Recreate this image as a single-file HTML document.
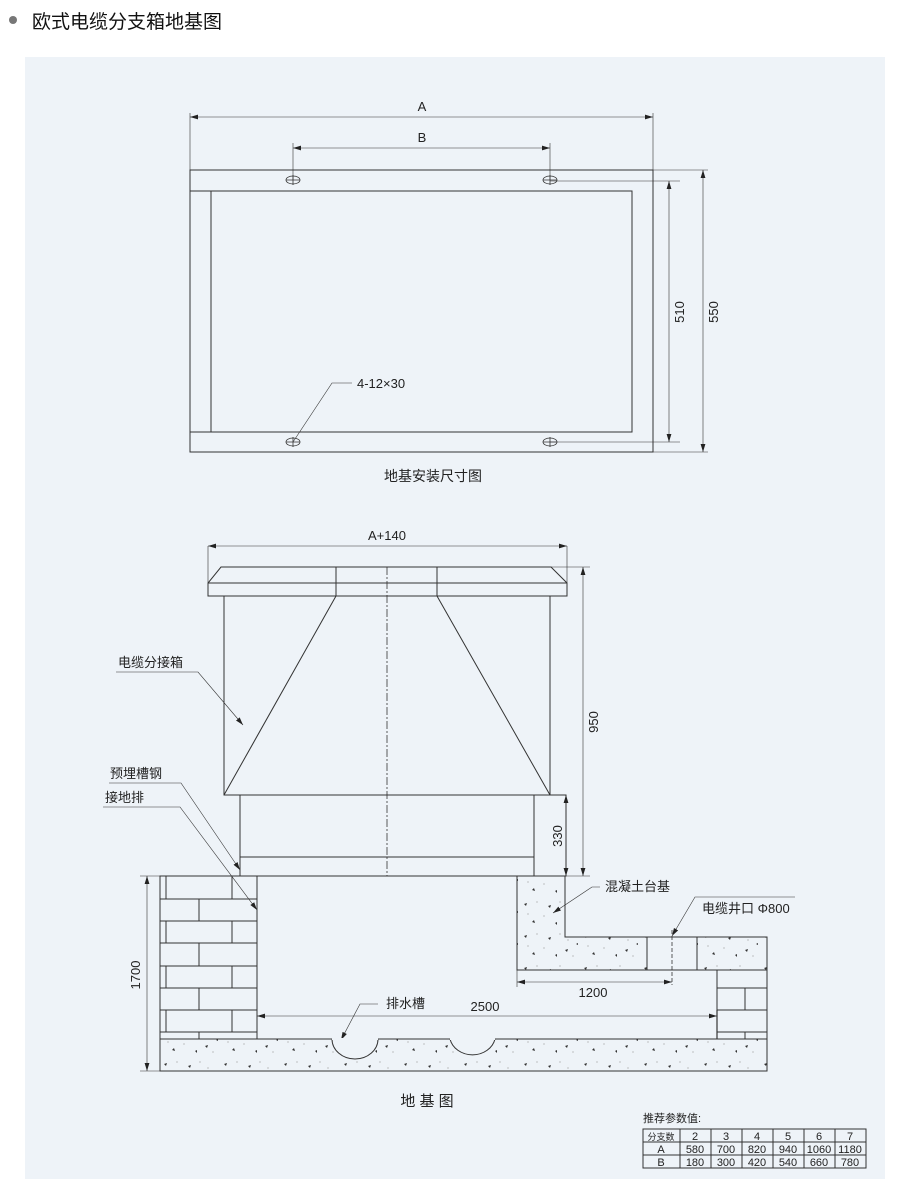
<!DOCTYPE html>
<html><head><meta charset="utf-8"><style>
html,body{margin:0;padding:0;background:#fff;}
body{width:900px;height:1179px;position:relative;overflow:hidden;font-family:"Liberation Sans","Noto Sans CJK SC",sans-serif;}
svg{position:absolute;left:0;top:0;}
</style></head><body>
<svg width="900" height="1179" viewBox="0 0 900 1179" xmlns="http://www.w3.org/2000/svg" font-family="Liberation Sans, Noto Sans CJK SC, sans-serif">
<defs>
<marker id="ar" viewBox="0 0 10 6" refX="10" refY="3" markerWidth="8" markerHeight="5" orient="auto-start-reverse" markerUnits="userSpaceOnUse"><path d="M0,0L10,3L0,6z" fill="#222"/></marker>
<pattern id="conc" width="60" height="32" patternUnits="userSpaceOnUse">
<g fill="#333"><path d="M8,10l3,-1l-1,3z"/><path d="M25,22l3,-1l-1,3z"/><path d="M44,8l3,-1l-1,3z"/><path d="M52,26l2,-2l1,3z"/><path d="M15,27l2,-1l0,3z"/><path d="M36,16l2,-1l0,2z"/></g>
<g fill="#999"><circle cx="4" cy="20" r="0.6"/><circle cx="20" cy="6" r="0.6"/><circle cx="33" cy="28" r="0.6"/><circle cx="48" cy="18" r="0.6"/><circle cx="57" cy="6" r="0.6"/><circle cx="28" cy="12" r="0.6"/></g>
</pattern>
</defs>
<rect x="25" y="57" width="860" height="1122" fill="#eef3f8"/>
<circle cx="13" cy="20" r="4" fill="#777"/>
<text x="32" y="28" font-size="19" fill="#111">欧式电缆分支箱地基图</text>

<g stroke="#333" stroke-width="1" fill="none">
<rect x="190" y="170" width="463" height="282"/>
<path d="M190,191H632V432H190M211,191V432"/>
<line x1="190" y1="113" x2="190" y2="170" stroke-width="0.6"/>
<line x1="653" y1="113" x2="653" y2="170" stroke-width="0.6"/>
<line x1="190" y1="117" x2="653" y2="117" stroke-width="0.6" marker-start="url(#ar)" marker-end="url(#ar)"/>
<line x1="293" y1="143" x2="293" y2="180" stroke-width="0.6"/>
<line x1="550" y1="143" x2="550" y2="180" stroke-width="0.6"/>
<line x1="293" y1="148" x2="550" y2="148" stroke-width="0.6" marker-start="url(#ar)" marker-end="url(#ar)"/>
<g stroke-width="0.8">
<ellipse cx="293" cy="180" rx="7" ry="4"/><path d="M286,180h14M293,175v10"/>
<ellipse cx="550" cy="180" rx="7" ry="4"/><path d="M543,180h14M550,175v10"/>
<ellipse cx="293" cy="442" rx="7" ry="4"/><path d="M286,442h14M293,437v10"/>
<ellipse cx="550" cy="442" rx="7" ry="4"/><path d="M543,442h14M550,437v10"/>
</g>
<path d="M550,181H680M550,442H680M653,170H708M653,452H708" stroke-width="0.6"/>
<line x1="669" y1="181" x2="669" y2="442" stroke-width="0.6" marker-start="url(#ar)" marker-end="url(#ar)"/>
<line x1="703" y1="170" x2="703" y2="452" stroke-width="0.6" marker-start="url(#ar)" marker-end="url(#ar)"/>
<path d="M293,442L332,383H352" stroke-width="0.6"/>

<line x1="208" y1="546" x2="567" y2="546" stroke-width="0.6" marker-start="url(#ar)" marker-end="url(#ar)"/>
<path d="M208,546V583M567,546V583" stroke-width="0.6"/>
<path d="M221,567H551L567,583V596H208V583Z"/>
<path d="M208,583H567M336,567V596M437,567V596"/>
<rect x="224" y="596" width="326" height="199"/>
<path d="M336,596L224,795M437,596L550,795"/>
<rect x="240" y="795" width="326" height="81"/>
<path d="M240,857H534M534,795V876"/>
<line x1="387" y1="567" x2="387" y2="876" stroke-dasharray="8,2,2,2" stroke-width="0.8"/>
<path d="M551,567H590M566,876H590" stroke-width="0.6"/>
<line x1="583" y1="567" x2="583" y2="876" stroke-width="0.6" marker-start="url(#ar)" marker-end="url(#ar)"/>
<line x1="566" y1="795" x2="566" y2="876" stroke-width="0.6" marker-start="url(#ar)" marker-end="url(#ar)"/>

<path d="M116,672H198L243,725" stroke-width="0.6" marker-end="url(#ar)"/>
<path d="M109,783H181L240,870" stroke-width="0.6" marker-end="url(#ar)"/>
<path d="M103,807H180L257,910" stroke-width="0.6" marker-end="url(#ar)"/>
<path d="M600,887H592L553,913" stroke-width="0.6" marker-end="url(#ar)"/>
<path d="M795,897H695L672,936" stroke-width="0.6" marker-end="url(#ar)"/>
<path d="M378,1004H360L341,1040" stroke-width="0.6" marker-end="url(#ar)"/>

<line x1="160" y1="876" x2="566" y2="876"/>
<rect x="160" y="1039" width="607" height="32" fill="url(#conc)"/>
<path d="M332,1039A23,20 0 0 0 378,1039M450,1039A23,20 0 0 0 495,1039" fill="#eef3f8"/>
<path d="M332,1039H378M450,1039H495" stroke="#eef3f8" stroke-width="2"/>
<path d="M160,1039H332M378,1039H450M495,1039H767"/>
<rect x="160" y="876" width="97" height="163"/>
<path d="M160,899H257M160,921H257M160,943H257M160,966H257M160,988H257M160,1010H257M160,1032H257"/>
<path d="M166,876V899M232,876V899M199,899V921M166,921V943M232,921V943M199,943V966M166,966V988M232,966V988M199,988V1010M166,1010V1032M232,1010V1032M199,1032V1039"/>
<path d="M517,876H565V937H767V970H517Z" fill="url(#conc)"/>
<rect x="647" y="937" width="50" height="33" fill="#eef3f8"/>
<path d="M647,937V970M697,937V970"/>
<line x1="672" y1="930" x2="672" y2="985" stroke-dasharray="4,2" stroke-width="0.8"/>
<rect x="717" y="970" width="50" height="69"/>
<path d="M717,988H767M717,1010H767M717,1032H767M745,988V1010M745,1032V1039"/>
<path d="M517,970V987" stroke-width="0.6"/>
<line x1="517" y1="982" x2="672" y2="982" stroke-width="0.6" marker-start="url(#ar)" marker-end="url(#ar)"/>
<path d="M717,1010V1039" stroke-width="1.2"/>
<line x1="257" y1="1016" x2="717" y2="1016" stroke-width="0.6" marker-start="url(#ar)" marker-end="url(#ar)"/>
<path d="M140,876H160M140,1071H160" stroke-width="0.6"/>
<line x1="147" y1="876" x2="147" y2="1071" stroke-width="0.6" marker-start="url(#ar)" marker-end="url(#ar)"/>
</g>

<g font-size="13" fill="#222">
<text x="422" y="111" text-anchor="middle">A</text>
<text x="422" y="142" text-anchor="middle">B</text>
<text x="684" y="312" text-anchor="middle" transform="rotate(-90 684 312)">510</text>
<text x="718" y="312" text-anchor="middle" transform="rotate(-90 718 312)">550</text>
<text x="357" y="388">4-12×30</text>
<text x="433" y="481" text-anchor="middle" font-size="14">地基安装尺寸图</text>
<text x="387" y="540" text-anchor="middle">A+140</text>
<text x="598" y="722" text-anchor="middle" transform="rotate(-90 598 722)">950</text>
<text x="562" y="836" text-anchor="middle" transform="rotate(-90 562 836)">330</text>
<text x="140" y="975" text-anchor="middle" transform="rotate(-90 140 975)">1700</text>
<text x="118" y="667">电缆分接箱</text>
<text x="110" y="778">预埋槽钢</text>
<text x="105" y="802">接地排</text>
<text x="605" y="891">混凝土台基</text>
<text x="702" y="913">电缆井口 Φ800</text>
<text x="386" y="1008">排水槽</text>
<text x="485" y="1011" text-anchor="middle">2500</text>
<text x="593" y="997" text-anchor="middle">1200</text>
<text x="427" y="1106" text-anchor="middle" font-size="15">地 基 图</text>
<text x="643" y="1122" font-size="11">推荐参数值:</text>
</g>

<g stroke="#333" stroke-width="1" fill="none">
<rect x="643" y="1129" width="223" height="39"/>
<path d="M643,1142H866M643,1155H866M680,1129V1168M711,1129V1168M742,1129V1168M773,1129V1168M804,1129V1168M835,1129V1168"/>
</g>
<g font-size="11" fill="#222" text-anchor="middle">
<text x="661" y="1140" font-size="9">分支数</text><text x="695" y="1140">2</text><text x="726" y="1140">3</text><text x="757" y="1140">4</text><text x="788" y="1140">5</text><text x="819" y="1140">6</text><text x="850" y="1140">7</text>
<text x="661" y="1153">A</text><text x="695" y="1153">580</text><text x="726" y="1153">700</text><text x="757" y="1153">820</text><text x="788" y="1153">940</text><text x="819" y="1153">1060</text><text x="850" y="1153">1180</text>
<text x="661" y="1166">B</text><text x="695" y="1166">180</text><text x="726" y="1166">300</text><text x="757" y="1166">420</text><text x="788" y="1166">540</text><text x="819" y="1166">660</text><text x="850" y="1166">780</text>
</g>
</svg>
</body></html>
